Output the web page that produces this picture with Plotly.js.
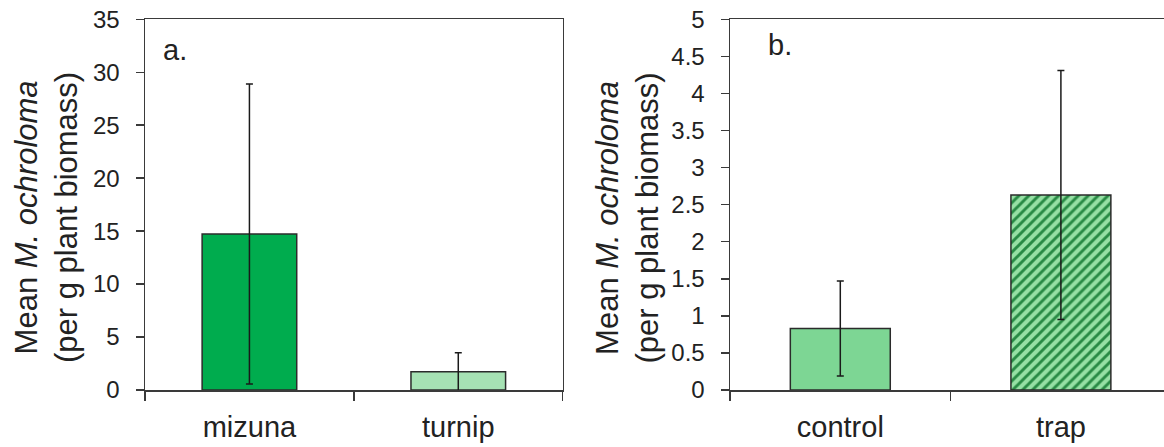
<!DOCTYPE html>
<html>
<head>
<meta charset="utf-8">
<script src="https://cdn.plot.ly/plotly-3.0.1.min.js"></script>
<style>html,body{margin:0;padding:0;background:#fff;}#chart{width:1164px;height:447px;}</style>
</head>
<body>
<div id="chart"></div>
<script>
// Panel a: host plant
const catsA = ['mizuna', 'turnip'];
const meansA = [14.73, 1.73];
const errA = [14.17, 1.79];
// Panel b: treatment
const catsB = ['control', 'trap'];
const meansB = [0.83, 2.63];
const errB = [0.64, 1.68];
const yTicksA = [0, 5, 10, 15, 20, 25, 30, 35];
const yTicksB = [0, 0.5, 1, 1.5, 2, 2.5, 3, 3.5, 4, 4.5, 5];
const yTickTextB = ['0', '0.5', '1', '1.5', '2', '2.5', '3', '3.5', '4', '4.5', '5'];

const FONT = 'Liberation Sans, Arial, sans-serif';
const TXT = '#222222';
const LINE = '#3a3a3a';

const W = 1164, H = 447;
const px = v => v / W;
const py = v => 1 - v / H;

const errStyle = { color: '#1a1a1a', thickness: 1.5, width: 3.5 };

const traceA = {
  type: 'bar', x: catsA, y: meansA, xaxis: 'x', yaxis: 'y',
  width: 0.453,
  marker: { color: ['#00ac4e', '#a6e2b4'], line: { color: '#2b2b2b', width: 1.5 } },
  error_y: Object.assign({ type: 'data', array: errA, visible: true }, errStyle),
  hoverinfo: 'none', showlegend: false
};
const traceB1 = {
  type: 'bar', x: catsB.slice(0, 1), y: meansB.slice(0, 1), xaxis: 'x2', yaxis: 'y2',
  width: 0.453,
  marker: { color: '#7dd694', line: { color: '#2b2b2b', width: 1.5 } },
  error_y: Object.assign({ type: 'data', array: errB.slice(0, 1), visible: true }, errStyle),
  hoverinfo: 'none', showlegend: false
};
const traceB2 = {
  type: 'bar', x: catsB.slice(1), y: meansB.slice(1), xaxis: 'x2', yaxis: 'y2',
  width: 0.453,
  marker: {
    color: '#96e0a4',
    line: { color: '#2b2b2b', width: 1.5 },
    pattern: { shape: '/', fgcolor: '#288a44', fgopacity: 1, size: 7, solidity: 0.42, fillmode: 'overlay' }
  },
  error_y: Object.assign({ type: 'data', array: errB.slice(1), visible: true }, errStyle),
  hoverinfo: 'none', showlegend: false
};

const yDom = [py(390), py(19.3)];
const commonX = {
  type: 'category', tickson: 'boundaries', ticks: 'outside', ticklen: 9, tickwidth: 1.5, tickcolor: LINE,
  showline: true, linecolor: LINE, linewidth: 1.5, mirror: true, showgrid: false, zeroline: false,
  ticklabelstandoff: 11,
  tickfont: { family: FONT, size: 29, color: TXT }, fixedrange: true
};
const commonY = {
  ticks: 'outside', ticklen: 8, tickwidth: 1.5, tickcolor: LINE,
  showline: true, linecolor: LINE, linewidth: 1.5, showgrid: false, zeroline: false,
  ticklabelstandoff: 11,
  tickfont: { family: FONT, size: 24, color: TXT }, domain: yDom, fixedrange: true
};

const layout = {
  width: W, height: H,
  margin: { l: 0, r: 0, t: 0, b: 0, pad: 0 },
  paper_bgcolor: '#ffffff', plot_bgcolor: '#ffffff',
  showlegend: false,
  barmode: 'overlay',
  xaxis: Object.assign({}, commonX, { domain: [px(145), px(562.7)], range: [-0.5, 1.5], anchor: 'y',
    categoryorder: 'array', categoryarray: catsA }),
  yaxis: Object.assign({}, commonY, { range: [0, 35], tickmode: 'array', tickvals: yTicksA, anchor: 'x', mirror: true }),
  xaxis2: Object.assign({}, commonX, { domain: [px(730), 1], range: [-0.5, -0.5 + 434 / 220.6], anchor: 'y2',
    categoryorder: 'array', categoryarray: catsB }),
  yaxis2: Object.assign({}, commonY, { range: [0, 5], tickmode: 'array', tickvals: yTicksB, ticktext: yTickTextB, anchor: 'x2', mirror: false }),
  annotations: [
    { xref: 'paper', yref: 'paper', x: px(46), y: py(218), text: 'Mean <i>M. ochroloma</i><br>(per g plant biomass)',
      textangle: -90, showarrow: false, xanchor: 'center', yanchor: 'middle',
      font: { family: FONT, size: 31, color: TXT } },
    { xref: 'paper', yref: 'paper', x: px(626.5), y: py(218), text: 'Mean <i>M. ochroloma</i><br>(per g plant biomass)',
      textangle: -90, showarrow: false, xanchor: 'center', yanchor: 'middle',
      font: { family: FONT, size: 31, color: TXT } },
    { xref: 'paper', yref: 'paper', x: px(161), y: py(68), text: 'a.', showarrow: false, xanchor: 'left', yanchor: 'bottom',
      font: { family: FONT, size: 29, color: TXT } },
    { xref: 'paper', yref: 'paper', x: px(766), y: py(63), text: 'b.', showarrow: false, xanchor: 'left', yanchor: 'bottom',
      font: { family: FONT, size: 29, color: TXT } }
  ]
};

Plotly.newPlot('chart', [traceA, traceB1, traceB2], layout, { staticPlot: true, displayModeBar: false });
</script>
</body>
</html>
